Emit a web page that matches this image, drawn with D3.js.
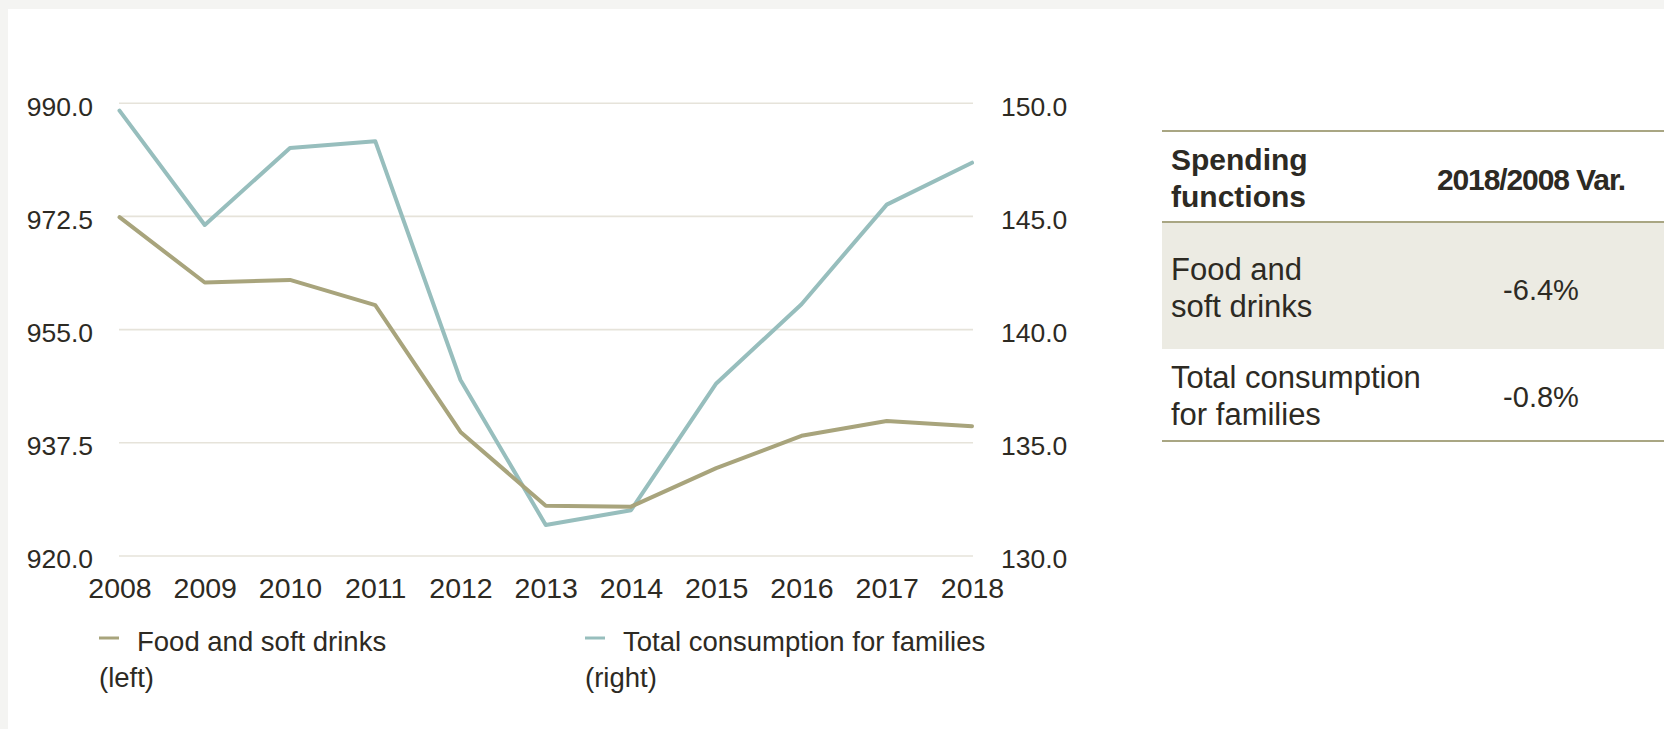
<!DOCTYPE html>
<html>
<head>
<meta charset="utf-8">
<script src="https://cdnjs.cloudflare.com/ajax/libs/d3/7.8.5/d3.min.js"></script>
<style>
  body { margin: 0; background: #fff; }
  svg { display: block; font-family: "Liberation Sans", Arial, Helvetica, sans-serif; }
  .axis text { fill: #2d2a23; font-size: 26.5px; }
  .axis .domain { display: none; }
</style>
</head>
<body>
<div id="chart"></div>
<script>
// data
var years = [2008, 2009, 2010, 2011, 2012, 2013, 2014, 2015, 2016, 2017, 2018];
var food = [972.3, 962.2, 962.6, 958.7, 939.1, 927.7, 927.55, 933.5, 938.5, 940.8, 940.0];
var total = [149.65, 144.6, 148.0, 148.3, 137.75, 131.35, 132.0, 137.6, 141.1, 145.5, 147.35];
var leftTicks = [920, 937.5, 955, 972.5, 990];
var rightTicks = [130, 135, 140, 145, 150];
var legendNames = ["Food and soft drinks", "Total consumption for families"];
var legendSides = ["(left)", "(right)"];
var tableHead = [["Spending", "functions"], "2018/2008 Var."];
var tableLabels = [["Food and", "soft drinks"], ["Total consumption", "for families"]];
var tableValues = ["-6.4%", "-0.8%"];

var W = 1664, H = 729;
var foodColor = "#a8a47c", totalColor = "#97bebd", ink = "#2d2a23";

var svg = d3.select("#chart").append("svg").attr("width", W).attr("height", H);

// faint textured frame along top and left edge
svg.append("rect").attr("x", 0).attr("y", 0).attr("width", W).attr("height", 9).attr("fill", "#f4f4f2");
svg.append("rect").attr("x", 0).attr("y", 0).attr("width", 8).attr("height", H).attr("fill", "#f4f4f2");

var x = d3.scalePoint().domain(years).range([119.5, 972]);
var yL = d3.scaleLinear().domain([920, 990]).range([555.5, 102.7]);
var yR = d3.scaleLinear().domain([130, 150]).range([555.5, 102.7]);

// left axis with gridlines
var gl = svg.append("g").attr("class", "axis").attr("transform", "translate(119,0)")
  .call(d3.axisLeft(yL).tickValues(leftTicks).tickFormat(d3.format(".1f")).tickSize(-854).tickPadding(26));
gl.selectAll("line").attr("stroke", "#e6e3da").attr("stroke-width", 1.6);
gl.selectAll("text").attr("dy", "0.47em");

var gr = svg.append("g").attr("class", "axis").attr("transform", "translate(973,0)")
  .call(d3.axisRight(yR).tickValues(rightTicks).tickFormat(d3.format(".1f")).tickSize(0).tickPadding(28));
gr.selectAll("text").attr("dy", "0.47em");

var gb = svg.append("g").attr("class", "axis").attr("transform", "translate(0,555.5)")
  .call(d3.axisBottom(x).tickSize(0).tickPadding(22).tickFormat(d3.format("d")));
gb.selectAll("text").style("font-size", "28.5px");

// lines
var lineR = d3.line().x(function(d, i) { return x(years[i]); }).y(function(d) { return yR(d); });
var lineL = d3.line().x(function(d, i) { return x(years[i]); }).y(function(d) { return yL(d); });

svg.append("path").datum(total).attr("d", lineR)
  .attr("fill", "none").attr("stroke", totalColor).attr("stroke-width", 4)
  .attr("stroke-linejoin", "round").attr("stroke-linecap", "round");
svg.append("path").datum(food).attr("d", lineL)
  .attr("fill", "none").attr("stroke", foodColor).attr("stroke-width", 4)
  .attr("stroke-linejoin", "round").attr("stroke-linecap", "round");

// legend
var legX = [99, 585];
var leg = svg.append("g").selectAll("g").data(legendNames).enter().append("g")
  .attr("transform", function(d, i) { return "translate(" + legX[i] + ",0)"; });
leg.append("line").attr("x1", 0).attr("x2", 20).attr("y1", 638).attr("y2", 638)
  .attr("stroke", function(d, i) { return i ? totalColor : foodColor; }).attr("stroke-width", 3);
leg.append("text").attr("x", 38).attr("y", 651).attr("fill", ink).style("font-size", "27.5px")
  .text(function(d) { return d; });
leg.append("text").attr("x", 0).attr("y", 687).attr("fill", ink).style("font-size", "27.5px")
  .text(function(d, i) { return legendSides[i]; });

// table
var tx0 = 1162, tx1 = 1664, rule = "#a9a683";
var tb = svg.append("g").style("font-size", "31px").attr("fill", ink);
tb.append("rect").attr("x", tx0).attr("y", 222).attr("width", tx1 - tx0).attr("height", 127).attr("fill", "#ecebe3");
[131, 222, 441].forEach(function(yy) {
  tb.append("line").attr("x1", tx0).attr("x2", tx1).attr("y1", yy).attr("y2", yy)
    .attr("stroke", rule).attr("stroke-width", 2);
});
tb.append("text").attr("x", 1171).attr("y", 170).style("font-weight", "bold").style("font-size", "30px").text(tableHead[0][0]);
tb.append("text").attr("x", 1171).attr("y", 207).style("font-weight", "bold").style("font-size", "30px").text(tableHead[0][1]);
tb.append("text").attr("x", 1531).attr("y", 190).attr("text-anchor", "middle").style("font-size", "30px")
  .style("font-weight", "bold").style("letter-spacing", "-1.1px").text(tableHead[1]);

var rowBase = [280, 388];
var valBase = [300, 407];
tableLabels.forEach(function(lab, i) {
  lab.forEach(function(s, j) {
    tb.append("text").attr("x", 1171).attr("y", rowBase[i] + j * 37).text(s);
  });
  tb.append("text").attr("x", 1541).attr("y", valBase[i]).attr("text-anchor", "middle")
    .style("font-size", "29px").text(tableValues[i]);
});
</script>
</body>
</html>
